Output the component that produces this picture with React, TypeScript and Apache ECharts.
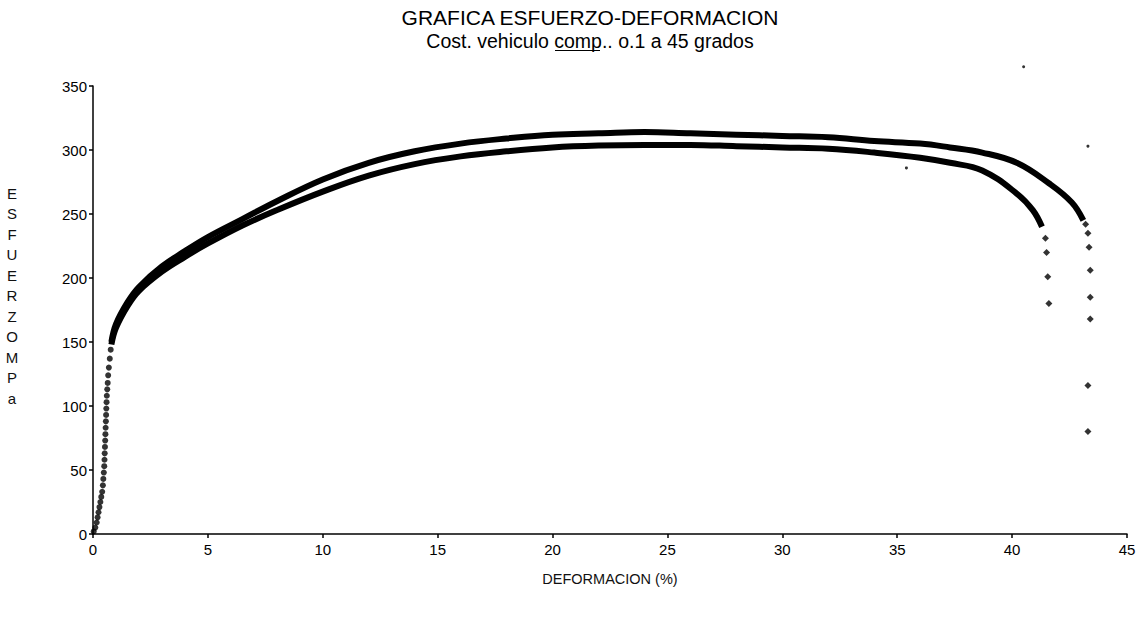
import React, { useEffect, useRef } from "react";
import * as echarts from "echarts";

// Axis ticks
const xTicks = [0, 5, 10, 15, 20, 25, 30, 35, 40, 45];
const yTicks = [0, 50, 100, 150, 200, 250, 300, 350];

// Upper curve (dense band of points)
const upperX = [0.8, 1.0, 1.5, 2.0, 3.0, 4.0, 5.0, 6.5, 8, 10, 12, 14, 16, 18, 20, 22, 24, 26, 28, 30, 32, 34, 36, 37.3, 38.7, 40.2, 41.6, 42.6, 43.1];
const upperY = [150, 164, 181, 193, 209, 221, 232, 246, 260, 277, 290, 299, 305, 309, 312, 313, 314, 313, 312, 311, 310, 307, 305, 302, 298, 290, 274, 259, 245];

// Lower curve
const lowerX = [0.8, 1.0, 1.5, 2.0, 3.0, 4.0, 5.0, 6.5, 8, 10, 12, 14, 16, 18, 20, 22, 24, 26, 28, 30, 32, 34, 36, 37.3, 38.7, 40.2, 40.9, 41.3];
const lowerY = [148, 161, 178, 190, 205, 216.5, 227, 241, 253, 267.5, 280, 289, 295, 299, 302, 303.5, 304, 304, 303, 302, 301, 298, 294, 290, 284, 266, 253, 240];

// Individual points: elastic zone
const elasticX = [0.03, 0.1, 0.16, 0.2, 0.24, 0.28, 0.32, 0.36, 0.4, 0.43, 0.45, 0.47, 0.49, 0.5, 0.51, 0.52, 0.53, 0.54, 0.55, 0.56, 0.57, 0.58, 0.59, 0.6, 0.62, 0.64, 0.66, 0.69, 0.73, 0.77];
const elasticY = [2, 5, 9, 13, 17, 21, 25, 29, 33, 38, 43, 48, 53, 58, 63, 68, 73, 78, 83, 88, 93, 98, 103, 108, 113, 118, 124, 130, 137, 144];

// Individual points: tail of upper curve
const upperTailX = [43.2, 43.3, 43.35, 43.4, 43.4, 43.4, 43.3, 43.3];
const upperTailY = [242, 235, 224, 206, 185, 168, 116, 80];

// Individual points: tail of lower curve
const lowerTailX = [41.45, 41.5, 41.55, 41.6];
const lowerTailY = [231, 220, 201, 180];

// Stray points
const strayX = [43.3, 35.4, 40.5];
const strayY = [303, 286, 365];

const zip = (xs: number[], ys: number[]) => xs.map((x, i) => [x, ys[i]]);

export default function App() {
  const ref = useRef<HTMLDivElement>(null);
  useEffect(() => {
    if (!ref.current) return;
    const chart = echarts.init(ref.current, undefined, { renderer: "svg" });
    const font = "'Liberation Sans', Arial, sans-serif";
    chart.setOption({
      animation: false,
      backgroundColor: "#ffffff",
      grid: { left: 93, top: 86, width: 1034, height: 448, containLabel: false },
      xAxis: {
        type: "value",
        min: xTicks[0],
        max: xTicks[xTicks.length - 1],
        interval: 5,
        name: "DEFORMACION (%)",
        nameLocation: "middle",
        nameGap: 37,
        nameTextStyle: { color: "#111", fontSize: 14.5, fontFamily: font },
        axisLine: { lineStyle: { color: "#000", width: 1.5 } },
        axisTick: { show: true, length: 4, lineStyle: { color: "#000", width: 1.5 } },
        axisLabel: { color: "#000", fontSize: 15, fontFamily: font, margin: 8 },
        splitLine: { show: false },
      },
      yAxis: {
        type: "value",
        min: yTicks[0],
        max: yTicks[yTicks.length - 1],
        interval: 50,
        axisLine: { show: true, lineStyle: { color: "#000", width: 1.5 } },
        axisTick: { show: true, length: 4, lineStyle: { color: "#000", width: 1.5 } },
        axisLabel: { color: "#000", fontSize: 15, fontFamily: font, margin: 6 },
        splitLine: { show: false },
      },
      graphic: [
        {
          type: "text",
          x: 590,
          y: 17,
          style: {
            text: "GRAFICA ESFUERZO-DEFORMACION",
            textAlign: "center",
            textVerticalAlign: "middle",
            fontSize: 21,
            fontFamily: font,
            fill: "#000",
          },
        },
        {
          type: "text",
          x: 590,
          y: 41,
          style: {
            text: "Cost. vehiculo comp.. o.1 a 45 grados",
            textAlign: "center",
            textVerticalAlign: "middle",
            fontSize: 19.5,
            fontFamily: font,
            fill: "#000",
          },
        },
        {
          type: "line",
          shape: { x1: 555, y1: 50.5, x2: 600, y2: 50.5 },
          style: { stroke: "#000", lineWidth: 1 },
        },
        {
          type: "text",
          x: 12,
          y: 183,
          style: {
            text: "E\nS\nF\nU\nE\nR\nZ\nO\nM\nP\na",
            textAlign: "center",
            fontSize: 15,
            lineHeight: 20.5,
            fontFamily: font,
            fill: "#111",
          },
        },
      ],
      series: [
        {
          type: "line",
          data: zip(upperX, upperY),
          smooth: 0.4,
          symbol: "none",
          lineStyle: { color: "#000", width: 6 },
        },
        {
          type: "line",
          data: zip(lowerX, lowerY),
          smooth: 0.4,
          symbol: "none",
          lineStyle: { color: "#000", width: 6 },
        },
        {
          type: "scatter",
          data: zip(elasticX, elasticY),
          symbol: "circle",
          symbolSize: 6,
          itemStyle: { color: "#000" },
        },
        {
          type: "scatter",
          data: zip(upperTailX, upperTailY).concat(zip(lowerTailX, lowerTailY)),
          symbol: "diamond",
          symbolSize: 7,
          itemStyle: { color: "#000" },
        },
        {
          type: "scatter",
          data: zip(strayX, strayY),
          clip: false,
          symbol: "circle",
          symbolSize: 3,
          itemStyle: { color: "#000" },
        },
      ],
    });
    return () => chart.dispose();
  }, []);
  return <div ref={ref} style={{ width: 1146, height: 622, position: "absolute", left: 0, top: 0 }} />;
}
